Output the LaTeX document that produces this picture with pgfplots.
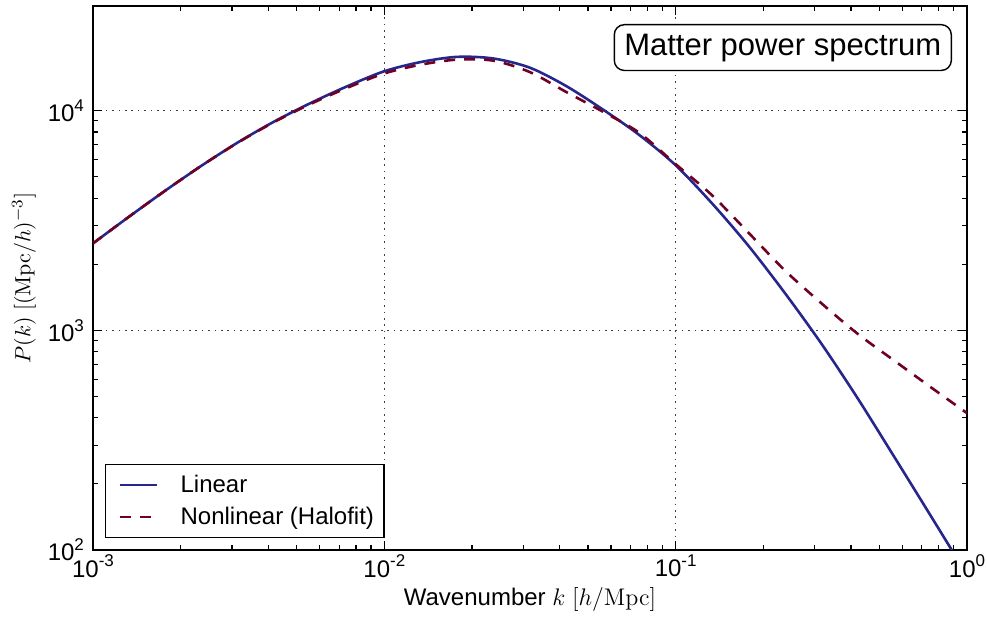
\documentclass[border=0pt]{standalone}
\usepackage[no-math]{fontspec}
\setmainfont{Liberation Sans}
\usepackage{pgfplots}
\usepackage{pgfplotstable}
\pgfplotsset{compat=1.18}
\definecolor{linblue}{RGB}{38,38,140}
\definecolor{nlred}{RGB}{112,0,36}
\newcommand{\tl}[1]{10\raisebox{0.42em}{\fontsize{8.5}{9}\selectfont #1}}

\pgfplotstableread{
k P
0.001    2489
0.001334 3304
0.001778 4345
0.002371 5649
0.003162 7211
0.004217 8974
0.005623 10890
0.007499 12970
0.01     15136
0.01334  16672
0.01778  17600
0.02371  17298
0.03162  15704
0.04217  12942
0.05623  10139
0.07499  7762
0.1      5649
0.1334   3784
0.1778   2427
0.2371   1479
0.3162   871
0.4217   490
0.5623   266
0.7499   143.5
1.0      77.1
}\linear

\pgfplotstableread{
k P
0.001    2489
0.001334 3304
0.001778 4345
0.002371 5649
0.003162 7194
0.004217 8933
0.005623 10790
0.007499 12760
0.01     14791
0.01334  16218
0.01778  17100
0.02371  16904
0.03162  14997
0.04217  12162
0.05623  9908
0.07499  7943
0.1      5715
0.1334   4121
0.1778   2786
0.2371   1875
0.3162   1330
0.4217   964
0.5623   729
0.7499   552
1.0      420
}\nonlinear

\begin{document}
\begin{tikzpicture}
\begin{axis}[
  xmode=log, ymode=log,
  scale only axis, width=437pt, height=272pt,
  xmin=1e-3, xmax=1, ymin=100, ymax=3e4,
  axis line style={line width=0.9pt},
  tick align=inside,
  major tick length=4.5pt, minor tick length=2.5pt,
  every tick/.style={black, line width=0.6pt},
  xtick={1e-3,1e-2,1e-1,1},
  xticklabels={\tl{-3},\tl{-2},\tl{-1},\tl{0}},
  ytick={1e2,1e3,1e4},
  yticklabels={\tl{2},\tl{3},\tl{4}},
  tick label style={font=\fontsize{12}{14}\selectfont},
  xticklabel style={yshift=1pt},
  yticklabel style={xshift=-1pt},
  grid=major,
  major grid style={black!75, line width=0.6pt, dash pattern=on 0.8pt off 2.4pt},
  xlabel={Wavenumber $k\ [h/\mathrm{Mpc}]$},
  ylabel={$P(k)\ [(\mathrm{Mpc}/h)^{-3}]$},
  xlabel style={font=\fontsize{12}{14}\selectfont, at={(axis description cs:0.5,0)}, anchor=base, yshift=-28pt},
  ylabel style={font=\fontsize{11}{13}\selectfont, at={(axis description cs:0,0.5)}, anchor=center, yshift=34.5pt},
  legend style={at={(axis description cs:0,0)}, anchor=south west, xshift=6pt, yshift=6pt,
    draw=black, line width=0.6pt, font=\fontsize{12}{14}\selectfont,
    inner xsep=3pt, inner ysep=3pt, row sep=2pt},
  legend cell align=left,
  legend image code/.code={\path[draw=none,fill=none] (-4pt,0pt) rectangle (28.5pt,0pt); \draw[#1] (0pt,0pt) -- (18.5pt,0pt);},
]
\coordinate (sw) at (rel axis cs:0,0);
\coordinate (ne) at (rel axis cs:1,1);
\addplot[linblue, line width=1.3pt, smooth] table[x=k, y=P] {\linear};
\addlegendentry{Linear}
\addplot[nlred, line width=1.3pt, smooth, dash pattern=on 5.5pt off 4.5pt] table[x=k, y=P] {\nonlinear};
\addlegendentry{Nonlinear (Halofit)}
\node[draw=black, fill=white, rounded corners=5pt, line width=0.7pt, anchor=north east,
  font=\fontsize{15.5}{18}\selectfont, inner xsep=5pt, inner ysep=4.5pt]
  at ([shift={(-7.5pt,-9pt)}]rel axis cs:1,1) {Matter power spectrum};
\end{axis}
\pgfresetboundingbox
\path[use as bounding box] ([shift={(-46.5pt,-36pt)}]sw) rectangle ([shift={(10pt,3pt)}]ne);
\end{tikzpicture}
\end{document}
